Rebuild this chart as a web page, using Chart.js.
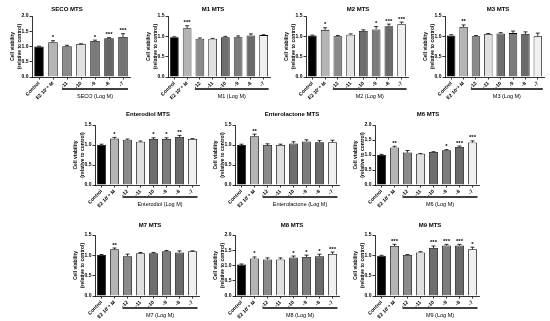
<!DOCTYPE html>
<html>
<head>
<meta charset="utf-8">
<script src="https://cdn.jsdelivr.net/npm/chart.js@4.4.0/dist/chart.umd.min.js"></script>
<style>
  html, body { margin: 0; padding: 0; background: #fff; }
  body { width: 550px; height: 321px; position: relative; overflow: hidden; }
  canvas { position: absolute; }
</style>
</head>
<body>
<script>
// tick labels
const labels8 = ['Control', 'E2 10\u207B\u2078 M', '-12', '-11', '-10', '-9', '-8', '-7'];
const labels7 = ['Control', 'E2 10\u207B\u2078 M', '-11', '-10', '-9', '-8', '-7'];

// bar fills
const colors8 = ['#000000', '#b4b4b4', '#8a8a8a', '#e0e0e0', '#6e6e6e', '#7c7c7c', '#6a6a6a', '#f0f0f0'];
const colors7 = ['#000000', '#b4b4b4', '#8a8a8a', '#e0e0e0', '#7a7a7a', '#666666', '#747474'];

// values (mean, +SEM, significance)
const secoMean = [1.00, 1.14, 1.01, 1.08, 1.18, 1.27, 1.31];
const secoErr = [0.01, 0.05, 0.03, 0.01, 0.03, 0.02, 0.11];
const secoStars = ['', '*', '', '', '*', '***', '***'];

const m1Mean = [0.98, 1.20, 0.94, 0.94, 0.98, 0.98, 1.02, 1.03];
const m1Err = [0.01, 0.06, 0.02, 0.01, 0.02, 0.03, 0.04, 0.01];
const m1Stars = ['', '***', '', '', '', '', '', ''];

const m2Mean = [1.02, 1.16, 1.00, 1.04, 1.13, 1.17, 1.25, 1.30];
const m2Err = [0.01, 0.05, 0.02, 0.02, 0.03, 0.07, 0.05, 0.05];
const m2Stars = ['', '*', '', '', '', '*', '***', '***'];

const m3Mean = [1.02, 1.23, 1.00, 1.06, 1.07, 1.08, 1.06, 1.00];
const m3Err = [0.02, 0.05, 0.02, 0.01, 0.02, 0.05, 0.05, 0.08];
const m3Stars = ['', '**', '', '', '', '', '', ''];

const endMean = [1.00, 1.16, 1.13, 1.08, 1.15, 1.15, 1.20, 1.15];
const endErr = [0.02, 0.03, 0.02, 0.02, 0.03, 0.03, 0.04, 0.01];
const endStars = ['', '*', '', '', '*', '*', '**', ''];

const entMean = [1.00, 1.22, 1.00, 1.00, 1.04, 1.09, 1.07, 1.07];
const entErr = [0.02, 0.05, 0.03, 0.02, 0.04, 0.04, 0.04, 0.05];
const entStars = ['', '**', '', '', '', '', '', ''];

const m6Mean = [1.00, 1.25, 1.08, 1.04, 1.10, 1.16, 1.27, 1.42];
const m6Err = [0.02, 0.04, 0.07, 0.01, 0.01, 0.02, 0.03, 0.05];
const m6Stars = ['', '**', '', '', '', '*', '***', '***'];

const m7Mean = [1.01, 1.15, 0.98, 1.05, 1.05, 1.10, 1.07, 1.10];
const m7Err = [0.01, 0.03, 0.05, 0.02, 0.02, 0.02, 0.04, 0.01];
const m7Stars = ['', '**', '', '', '', '', '', ''];

const m8Mean = [1.03, 1.23, 1.20, 1.20, 1.26, 1.28, 1.30, 1.38];
const m8Err = [0.02, 0.05, 0.05, 0.05, 0.05, 0.06, 0.07, 0.06];
const m8Stars = ['', '*', '', '', '*', '*', '*', '***'];

const m9Mean = [0.99, 1.23, 1.01, 1.07, 1.18, 1.24, 1.24, 1.15];
const m9Err = [0.01, 0.04, 0.01, 0.02, 0.05, 0.03, 0.03, 0.05];
const m9Stars = ['', '***', '', '', '***', '***', '***', '*'];

const FONT = "'Liberation Sans', Arial, sans-serif";

// panel layout: axis x, plot width, top tick y, baseline y, title centre
const panels = [
    { title: 'SECO MTS', group: 'SECO (Log M)', labels: labels7, colors: colors7, mean: secoMean, err: secoErr, stars: secoStars, yMax: 2, x: 32, w: 98, top: 16, base: 77, tx: 67, ty: 9.5 },
    { title: 'M1 MTS', group: 'M1 (Log M)', labels: labels8, colors: colors8, mean: m1Mean, err: m1Err, stars: m1Stars, yMax: 1.5, x: 168, w: 102, top: 16, base: 77, tx: 213, ty: 9.5 },
    { title: 'M2 MTS', group: 'M2 (Log M)', labels: labels8, colors: colors8, mean: m2Mean, err: m2Err, stars: m2Stars, yMax: 1.5, x: 306, w: 102, top: 16, base: 77, tx: 358, ty: 9.5 },
    { title: 'M3 MTS', group: 'M3 (Log M)', labels: labels8, colors: colors8, mean: m3Mean, err: m3Err, stars: m3Stars, yMax: 1.5, x: 445, w: 99, top: 16, base: 77, tx: 498, ty: 9.5 },
    { title: 'Enterodiol MTS', group: 'Enterodiol (Log M)', labels: labels8, colors: colors8, mean: endMean, err: endErr, stars: endStars, yMax: 1.5, x: 95, w: 104, top: 125, base: 185, tx: 148, ty: 114.5 },
    { title: 'Enterolactone MTS', group: 'Enterolactone (Log M)', labels: labels8, colors: colors8, mean: entMean, err: entErr, stars: entStars, yMax: 1.5, x: 235, w: 104, top: 125, base: 185, tx: 292, ty: 114.5 },
    { title: 'M6 MTS', group: 'M6 (Log M)', labels: labels8, colors: colors8, mean: m6Mean, err: m6Err, stars: m6Stars, yMax: 2, x: 375, w: 104, top: 125, base: 185, tx: 428, ty: 114.5 },
    { title: 'M7 MTS', group: 'M7 (Log M)', labels: labels8, colors: colors8, mean: m7Mean, err: m7Err, stars: m7Stars, yMax: 1.5, x: 95, w: 104, top: 235, base: 296, tx: 150, ty: 225 },
    { title: 'M8 MTS', group: 'M8 (Log M)', labels: labels8, colors: colors8, mean: m8Mean, err: m8Err, stars: m8Stars, yMax: 2, x: 235, w: 104, top: 235, base: 296, tx: 292, ty: 225 },
    { title: 'M9 MTS', group: 'M9 (Log M)', labels: labels8, colors: colors8, mean: m9Mean, err: m9Err, stars: m9Stars, yMax: 1.5, x: 375, w: 104, top: 235, base: 296, tx: 430, ty: 225 }
];

const Y_W = 23, PAD_T = 16, PAD_R = 8, X_H = 26;

panels.forEach(p => {
    const canvas = document.createElement('canvas');
    const left = p.x - Y_W;
    const top = p.top - PAD_T;
    const width = Y_W + p.w + PAD_R;
    const height = PAD_T + (p.base - p.top) + X_H;
    canvas.width = width;
    canvas.height = height;
    canvas.style.left = left + 'px';
    canvas.style.top = top + 'px';
    document.body.appendChild(canvas);

    // error bars, stars, title and the bracket under the doses
    const extras = {
        id: 'extras',
        afterDatasetsDraw(chart) {
            const ctx = chart.ctx;
            const xs = chart.scales.x, ys = chart.scales.y;
            ctx.save();
            ctx.strokeStyle = '#000';
            ctx.fillStyle = '#000';
            ctx.lineWidth = 0.8;
            ctx.textAlign = 'center';
            ctx.textBaseline = 'alphabetic';
            ctx.font = 'bold 6px ' + FONT;
            p.mean.forEach((m, i) => {
                const cx = xs.getPixelForValue(i);
                const y0 = ys.getPixelForValue(m);
                const y1 = ys.getPixelForValue(m + p.err[i]);
                ctx.beginPath();
                ctx.moveTo(cx, y0);
                ctx.lineTo(cx, y1);
                ctx.moveTo(cx - 2, y1);
                ctx.lineTo(cx + 2, y1);
                ctx.stroke();
                if (p.stars[i]) ctx.fillText(p.stars[i], cx, y1 - 1.5);
            });

            // title
            ctx.textBaseline = 'middle';
            ctx.font = 'bold 6px ' + FONT;
            ctx.fillText(p.title, p.tx - left, p.ty - top);

            // dose bracket
            const area = chart.chartArea;
            const x0 = xs.getPixelForValue(2) - 5;
            const x1 = xs.getPixelForValue(p.labels.length - 1) + 5;
            ctx.lineWidth = 1.5;
            ctx.beginPath();
            ctx.moveTo(x0, area.bottom + 12);
            ctx.lineTo(x1, area.bottom + 12);
            ctx.stroke();
            ctx.font = '5.5px ' + FONT;
            ctx.fillText(p.group, (x0 + x1) / 2, area.bottom + 19);
            ctx.restore();
        }
    };

    new Chart(canvas, {
        type: 'bar',
        data: {
            labels: p.labels,
            datasets: [{
                data: p.mean,
                backgroundColor: p.colors,
                borderColor: '#000',
                borderWidth: 0.8,
                barPercentage: 0.68,
                categoryPercentage: 1
            }]
        },
        options: {
            responsive: false,
            animation: false,
            layout: { padding: { left: 0, right: PAD_R, top: PAD_T, bottom: 0 } },
            plugins: { legend: { display: false }, tooltip: { enabled: false } },
            scales: {
                x: {
                    afterFit: s => { s.height = X_H; },
                    grid: { display: true, drawOnChartArea: false, offset: false, tickLength: 2.5, color: '#000', lineWidth: 0.8 },
                    border: { display: true, color: '#000', width: 0.8 },
                    ticks: {
                        autoSkip: false, minRotation: 45, maxRotation: 45, padding: 1,
                        color: '#000', font: { family: FONT, size: 5, weight: 'bold' }
                    }
                },
                y: {
                    min: 0,
                    max: p.yMax,
                    afterFit: s => { s.width = Y_W; },
                    grid: { display: true, drawOnChartArea: false, tickLength: 2.5, color: '#000', lineWidth: 0.8 },
                    border: { display: true, color: '#000', width: 0.8 },
                    ticks: {
                        stepSize: 0.5, padding: 1, color: '#000',
                        font: { family: FONT, size: 5, weight: 'bold' },
                        callback: v => v.toFixed(1)
                    },
                    title: {
                        display: true,
                        text: ['Cell viability', '(relative to control)'],
                        color: '#000',
                        padding: 0,
                        font: { family: FONT, size: 5, weight: 'bold', lineHeight: 1.4 }
                    }
                }
            }
        },
        plugins: [extras]
    });
});
</script>
</body>
</html>
